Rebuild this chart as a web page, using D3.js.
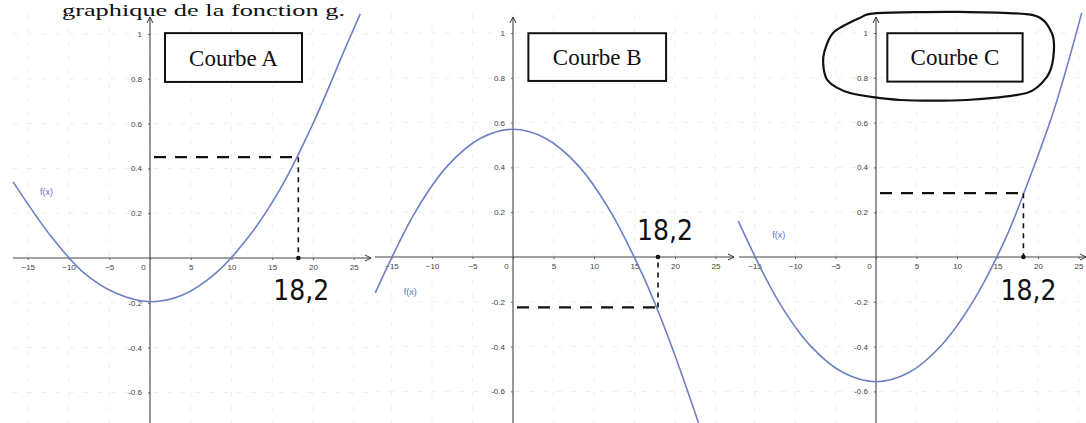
<!DOCTYPE html>
<html>
<head>
<meta charset="utf-8">
<script src="https://cdn.jsdelivr.net/npm/d3@7"></script>
<style>
  body { margin: 0; background: #fff; }
  svg { display: block; }
  .tick text { font-family: "Liberation Sans", Arial, sans-serif; font-size: 8px; fill: #444; }
</style>
</head>
<body>
<svg id="chart" width="1086" height="423"></svg>
<script>
// tick values shared by the three graphs
var xTicks = [-15, -10, -5, 0, 5, 10, 15, 20, 25];
var yTicks = [1, 0.8, 0.6, 0.4, 0.2, -0.2, -0.4, -0.6];

// points [x, f(x)]
var curveA = [[-16.8,0.34],[-12,0.09],[-8,-0.07],[-4,-0.16],[0,-0.195],[4,-0.165],[8,-0.07],
  [12,0.09],[16,0.31],[20,0.6],[24,0.94],[25.8,1.09]];
var curveB = [[-17,-0.16],[-12,0.205],[-8,0.41],[-4,0.53],[0,0.57],[4,0.53],[8,0.41],
  [12,0.205],[16,-0.08],[18,-0.25],[20,-0.44],[22.9,-0.74]];
var curveC = [[-17,0.16],[-12,-0.2],[-8,-0.4],[-4,-0.517],[0,-0.557],[4,-0.517],[8,-0.397],
  [12,-0.197],[16,0.083],[18.2,0.28],[22,0.66],[25.4,1.09]];

// titles, handwritten readings
var names = ["Courbe A", "Courbe B", "Courbe C"];
var readX = [18.2, 17.9, 18.2];
var readY = [0.45, -0.225, 0.285];
var readLabel = ["18,2", "18,2", "18,2"];

// hand drawn loop around "Courbe C" (graph units)
var loopC = [[-6.5,0.893],[-5.3,1.0],[-2,1.067],[0.1,1.089],[10.4,1.094],[19.4,1.08],[21.7,1.0],
  [21.9,0.893],[21.1,0.804],[18.6,0.732],[11.2,0.701],[3,0.701],[-3.2,0.732],[-6,0.79]];

// layout of each graph on the page
var panels = [
  {curve: curveA, ox: 150, oy: 258, kx: 8.15, ky: 224, x0: 13,  x1: 371, box: [1.84, 18.65, 1.004, 0.786],
   fx: [-13.5, 0.28], hand: [-25, 42]},
  {curve: curveB, ox: 513, oy: 257, kx: 8.1,  ky: 224, x0: 375, x1: 734, box: [1.9, 18.9, 0.999, 0.786],
   fx: [-13.5, -0.17], hand: [-21, -17]},
  {curve: curveC, ox: 876, oy: 257, kx: 8.1,  ky: 224, x0: 739, x1: 1086, box: [1.4, 18.1, 0.999, 0.783],
   fx: [-12.8, 0.085], hand: [-23, 43]}
];

var svg = d3.select("#chart");

svg.append("defs").append("marker")
  .attr("id", "arr")
  .attr("viewBox", "0 -4 6 8")
  .attr("refX", 6).attr("refY", 0)
  .attr("markerWidth", 6).attr("markerHeight", 8)
  .attr("markerUnits", "userSpaceOnUse")
  .attr("orient", "auto")
  .append("path")
  .attr("d", "M0,-3L6,0L0,3")
  .attr("fill", "none")
  .attr("stroke", "#333")
  .attr("stroke-width", 1);

// heading of the page
svg.append("text")
  .attr("x", 62).attr("y", 16)
  .attr("font-family", "Liberation Serif, Times New Roman, serif")
  .attr("font-size", 17)
  .attr("textLength", 283)
  .attr("lengthAdjust", "spacingAndGlyphs")
  .attr("fill", "#111")
  .text("graphique de la fonction g.");

panels.forEach(function(p, i){
  var x = d3.scaleLinear()
    .domain([(p.x0 - p.ox) / p.kx, (p.x1 - p.ox) / p.kx])
    .range([p.x0, p.x1]);
  var y = d3.scaleLinear()
    .domain([(p.oy - 423) / p.ky, (p.oy - 14) / p.ky])
    .range([423, 14]);

  var g = svg.append("g");

  // faint grid
  g.selectAll(".gx").data(xTicks).enter().append("line")
    .attr("x1", d => x(d)).attr("x2", d => x(d))
    .attr("y1", 14).attr("y2", 423)
    .attr("stroke", "#efefef").attr("stroke-dasharray", "5,9");
  g.selectAll(".gy").data(yTicks).enter().append("line")
    .attr("x1", p.x0).attr("x2", p.x1)
    .attr("y1", d => y(d)).attr("y2", d => y(d))
    .attr("stroke", "#efefef").attr("stroke-dasharray", "5,9");

  // axes
  var xAxis = g.append("g")
    .attr("transform", "translate(0," + y(0) + ")")
    .call(d3.axisBottom(x).tickValues(xTicks).tickSize(2).tickSizeOuter(0).tickPadding(4)
      .tickFormat(d3.format("d")));
  xAxis.select(".domain").remove();
  xAxis.selectAll(".tick line").attr("stroke", "#666");
  xAxis.selectAll(".tick text").filter(d => d === 0).attr("dx", -7);

  var yAxis = g.append("g")
    .attr("transform", "translate(" + x(0) + ",0)")
    .call(d3.axisLeft(y).tickValues(yTicks).tickSize(2).tickSizeOuter(0).tickPadding(6)
      .tickFormat(d => d === 1 ? "1" : d.toFixed(1)));
  yAxis.select(".domain").remove();
  yAxis.selectAll(".tick line").attr("stroke", "#666");

  g.append("line")
    .attr("x1", p.x0).attr("x2", p.x1)
    .attr("y1", y(0)).attr("y2", y(0))
    .attr("stroke", "#444").attr("stroke-width", 1.1)
    .attr("marker-end", "url(#arr)");
  g.append("line")
    .attr("x1", x(0)).attr("x2", x(0))
    .attr("y1", 423).attr("y2", 17)
    .attr("stroke", "#444").attr("stroke-width", 1.1)
    .attr("marker-end", "url(#arr)");

  // the curve
  var line = d3.line()
    .x(d => x(d[0]))
    .y(d => y(d[1]))
    .curve(d3.curveCatmullRom.alpha(0.5));
  g.append("path")
    .datum(p.curve)
    .attr("d", line)
    .attr("fill", "none")
    .attr("stroke", "#6f7fc4")
    .attr("stroke-width", 1.6);

  g.append("text")
    .attr("x", x(p.fx[0])).attr("y", y(p.fx[1]))
    .attr("font-family", "Liberation Sans, Arial, sans-serif")
    .attr("font-size", 9)
    .attr("fill", "#5d70c0")
    .text("f(x)");

  // name box
  var b = p.box;
  g.append("rect")
    .attr("x", x(b[0])).attr("y", y(b[2]))
    .attr("width", x(b[1]) - x(b[0]))
    .attr("height", y(b[3]) - y(b[2]))
    .attr("fill", "#fff")
    .attr("stroke", "#111").attr("stroke-width", 2);
  g.append("text")
    .attr("x", (x(b[0]) + x(b[1])) / 2)
    .attr("y", (y(b[2]) + y(b[3])) / 2 + 8)
    .attr("text-anchor", "middle")
    .attr("font-family", "Liberation Serif, Times New Roman, serif")
    .attr("font-size", 23)
    .attr("fill", "#111")
    .text(names[i]);

  // handwritten reading of f(18,2)
  g.append("line")
    .attr("x1", x(0) + 4).attr("x2", x(readX[i]))
    .attr("y1", y(readY[i])).attr("y2", y(readY[i]))
    .attr("stroke", "#111").attr("stroke-width", 2.2)
    .attr("stroke-dasharray", "12,9");
  g.append("line")
    .attr("x1", x(readX[i])).attr("x2", x(readX[i]))
    .attr("y1", y(readY[i])).attr("y2", y(0))
    .attr("stroke", "#111").attr("stroke-width", 1.6)
    .attr("stroke-dasharray", "5,5");
  g.append("circle")
    .attr("cx", x(readX[i])).attr("cy", y(0))
    .attr("r", 2.3).attr("fill", "#111");
  g.append("text")
    .attr("x", x(readX[i]) + p.hand[0])
    .attr("y", y(0) + p.hand[1])
    .attr("font-family", "DejaVu Sans, sans-serif")
    .attr("font-size", 29)
    .attr("textLength", 56)
    .attr("lengthAdjust", "spacingAndGlyphs")
    .attr("fill", "#111")
    .text(readLabel[i]);

  if (i === 2) {
    g.append("path")
      .datum(loopC)
      .attr("d", d3.line().x(d => x(d[0])).y(d => y(d[1])).curve(d3.curveCardinalClosed.tension(0.2)))
      .attr("fill", "none")
      .attr("stroke", "#111")
      .attr("stroke-width", 2.2);
  }
});
</script>
</body>
</html>
